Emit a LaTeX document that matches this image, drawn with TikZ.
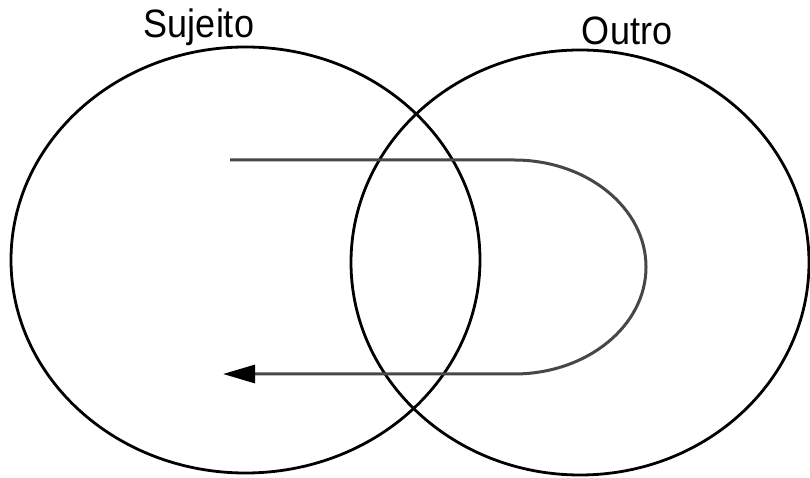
\documentclass[tikz,border=0pt]{standalone}
\usepackage{fontspec}
\setmainfont{Liberation Sans}
\usepackage{tikz}
\usetikzlibrary{shapes.geometric, arrows.meta, positioning}
\tikzstyle{set} = [ellipse, draw=black, line width=2.8pt, inner sep=0pt]
\tikzstyle{loop} = [line width=3pt, draw=black!72, {Triangle[length=32pt, width=18pt, color=black]}-]

\begin{document}
\begin{tikzpicture}[
        x=1pt, y=1pt,
        setlabel/.style={anchor=base, font=\fontsize{36}{40}\selectfont, yscale=1.1}
        ]
        \useasboundingbox (0,0) rectangle (810,478);

        \node[set, minimum width=469pt, minimum height=426pt] (sujeito) at (245.5,218) {};
        \node[set, minimum width=458pt, minimum height=425pt] (outro) at (580,215.5) {};

        \node[setlabel] (sujeito_label) at (199,440) {Sujeito};
        \node[setlabel] (outro_label) at (627,433) {Outro};

        \coordinate (start) at (230,318);
        \coordinate (turn) at (514,318);
        \coordinate (back) at (514,104);
        \coordinate (end) at (223,104);

        \draw[loop] (end) -- (back) arc[start angle=-90, end angle=90, x radius=132, y radius=107] -- (start);

    \end{tikzpicture}
\end{document}
